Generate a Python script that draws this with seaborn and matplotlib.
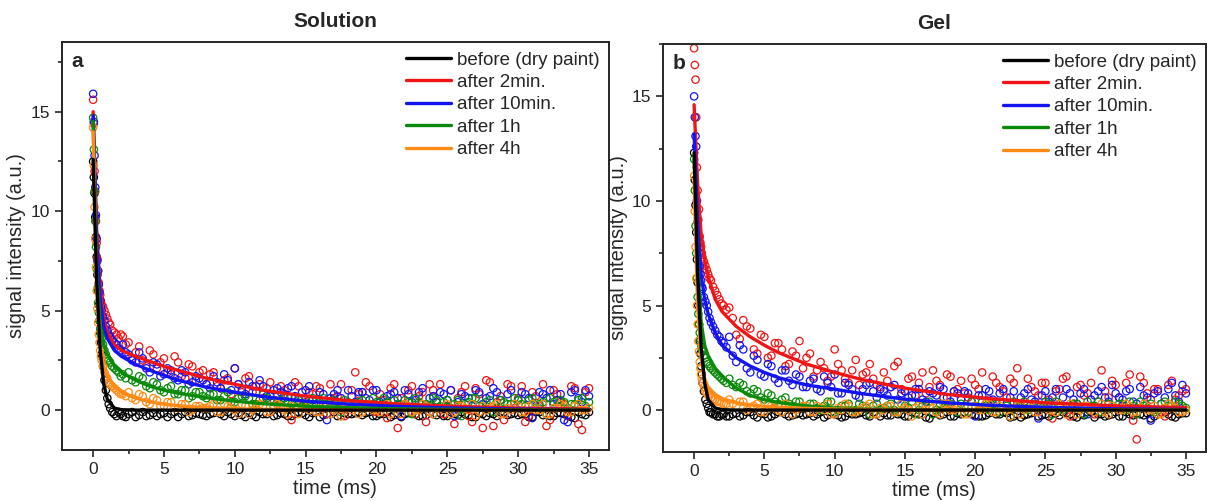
import numpy as np
import matplotlib
matplotlib.use("Agg")
import matplotlib.pyplot as plt
from matplotlib.ticker import MultipleLocator
import seaborn as sns

sns.set_style("ticks")
plt.rcParams['font.family'] = ['Liberation Sans', 'DejaVu Sans']

# series labels and colours (legend order)
LABELS = ['before (dry paint)', 'after 2min.', 'after 10min.', 'after 1h', 'after 4h']
COLORS = ['#000000', '#F01414', '#1414F0', '#0A8A0A', '#FF8A14']

# measured points, first time grid (ms)
T_PTS = [0, 0.1, 0.2, 0.3, 0.4, 0.5, 0.6, 0.8, 1.0, 1.2, 1.5, 1.8, 2.1,
         2.5, 3.0, 3.5, 4.0, 4.5, 5.0, 5.5, 6.0, 6.5, 7.0, 7.5,
         8.0, 8.5, 9.0, 9.5, 10.0, 10.5, 11.0, 11.5, 12.0, 12.5, 13.0,
         13.5, 14.0, 14.5, 15.0, 15.5, 16.0, 16.5, 17.0, 17.5, 18.0, 18.5,
         19.0, 19.5, 20.0, 20.5, 21.0, 21.5, 22.0, 22.5, 23.0, 23.5, 24.0,
         24.5, 25.0, 25.5, 26.0, 26.5, 27.0, 27.5, 28.0, 28.5, 29.0, 29.5,
         30.0, 30.5, 31.0, 31.5, 32.0, 32.5, 33.0, 33.5, 34.0, 34.5, 35.0]
# second (interleaved) time grid
T_PTS2 = [0.05, 0.15, 0.25, 0.35, 0.45, 0.55, 0.7, 0.9, 1.1, 1.35, 1.65, 1.95, 2.3,
          2.75, 3.25, 3.75, 4.25, 4.75, 5.25, 5.75, 6.25, 6.75, 7.25, 7.75,
          8.25, 8.75, 9.25, 9.75, 10.25, 10.75, 11.25, 11.75, 12.25, 12.75, 13.25,
          13.75, 14.25, 14.75, 15.25, 15.75, 16.25, 16.75, 17.25, 17.75, 18.25, 18.75,
          19.25, 19.75, 20.25, 20.75, 21.25, 21.75, 22.25, 22.75, 23.25, 23.75, 24.25,
          24.75, 25.25, 25.75, 26.25, 26.75, 27.25, 27.75, 28.25, 28.75, 29.25, 29.75,
          30.25, 30.75, 31.25, 31.75, 32.25, 32.75, 33.25, 33.75, 34.25, 34.75]

# --- Solution (panel a) points ---
BLACK_A = [12.5, 10.9, 8.7, 6.8, 5.3, 3.9, 2.8, 1.5, 0.6, 0.1, -0.2, -0.1, -0.3,
           -0.2, -0.35, -0.1, -0.25, -0.3, -0.15, -0.2, -0.35, -0.1, -0.25, -0.2,
           -0.3, -0.15, -0.2, -0.1, -0.3, -0.25, -0.15, -0.35, -0.2, -0.1, -0.25,
           -0.2, -0.3, -0.1, -0.25, -0.15, -0.35, -0.2, -0.1, -0.3, -0.2, -0.15,
           -0.25, -0.1, -0.3, -0.2, -0.35, -0.15, -0.2, -0.1, -0.3, -0.25, -0.2,
           -0.15, -0.3, -0.2, -0.1, -0.25, -0.35, -0.2, -0.15, -0.3, -0.1, -0.2,
           -0.25, -0.2, -0.35, -0.1, -0.2, -0.3, -0.15, -0.25, -0.4, -0.2, -0.1]
BLACK_A2 = [11.7, 9.7, 7.7, 6.0, 4.5, 3.4, 2.2, 1.0, 0.3, -0.1, -0.3, -0.2, -0.35,
            -0.1, -0.25, -0.3, -0.15, -0.2, -0.35, -0.1, -0.2, -0.3, -0.15, -0.25,
            -0.2, -0.1, -0.3, -0.2, -0.15, -0.35, -0.25, -0.1, -0.2, -0.3, -0.15,
            -0.3, -0.2, -0.15, -0.35, -0.1, -0.25, -0.2, -0.3, -0.15, -0.2, -0.1,
            -0.15, -0.3, -0.2, -0.1, -0.25, -0.35, -0.15, -0.2, -0.3, -0.1, -0.25,
            -0.3, -0.1, -0.25, -0.2, -0.35, -0.15, -0.3, -0.2, -0.1, -0.25, -0.15,
            -0.2, -0.35, -0.1, -0.25, -0.3, -0.15, -0.2, -0.35, -0.1, -0.25]
RED_A = [15.6, 12.0, 9.5, 7.6, 6.4, 5.8, 5.3, 5.0, 4.6, 4.3, 3.9, 3.6, 3.7,
         3.4, 2.9, 2.5, 3.0, 2.1, 2.6, 1.8, 2.4, 1.6, 2.2, 1.9,
         1.3, 1.9, 1.1, 1.6, 2.1, 0.9, 1.7, 1.2, 0.6, 1.4, 0.3,
         1.0, -0.5, 1.2, 0.4, 0.8, 1.1, -0.2, 0.6, 1.3, 0.2, 1.9,
         0.9, 1.2, -0.1, 0.5, 1.1, -0.9, 0.3, 1.2, 0.7, -0.6, 1.0,
         1.3, 0.2, -0.7, 0.9, -0.3, 1.1, -0.9, 1.4, 0.4, -0.5, 1.2,
         0.6, -0.6, 0.9, 0.2, -0.8, 1.0, 0.4, -0.3, 1.1, -1.0, 1.1]
RED_A2 = [14.4, 11.0, 8.4, 7.0, 6.0, 5.5, 5.2, 4.8, 4.4, 4.0, 3.8, 3.8, 3.3,
          2.6, 3.2, 2.2, 2.8, 2.4, 1.9, 2.7, 1.7, 2.3, 1.5, 2.0,
          1.8, 1.2, 1.5, 0.8, 1.3, 1.6, 0.9, 1.3, 1.1, 0.5, 1.2,
          0.7, 1.4, 0.2, 0.9, 1.2, 0.3, 1.3, 0.7, -0.3, 1.0, 0.8,
          1.4, 0.3, 0.8, -0.4, 1.3, 0.6, 1.0, -0.2, 0.9, 1.3, 0.4,
          -0.2, 1.0, 0.6, 1.2, -0.6, 0.8, 1.5, -0.8, 0.7, 1.3, 0.1,
          1.2, -0.3, 0.7, 1.3, -0.5, 0.8, 0.3, 1.2, -0.7, 0.9]
BLUE_A = [15.9, 12.8, 9.8, 7.5, 6.3, 5.5, 5.0, 4.5, 4.0, 3.7, 3.4, 3.1, 3.3,
          2.8, 2.4, 2.6, 1.9, 2.3, 1.8, 2.0, 1.5, 1.9, 1.4, 1.6,
          1.3, 1.7, 1.1, 1.5, 2.1, 1.0, 1.4, 0.9, 1.2, 0.7, 1.1,
          0.8, 1.2, 0.6, 1.0, 0.5, 0.9, -0.5, 0.8, 0.6, 1.0, 0.4,
          0.9, 0.5, 1.0, 0.3, 0.8, 0.6, 1.0, 0.4, 0.9, 0.2, 0.7,
          0.9, 0.5, -0.3, 0.8, 0.6, 1.0, 0.3, 0.7, 0.9, -0.2, 1.0,
          0.5, 0.8, -0.4, 0.9, 0.6, 0.3, 0.8, -0.6, 1.0, 0.4, 0.7]
BLUE_A2 = [14.5, 11.2, 8.6, 7.0, 5.9, 5.2, 4.7, 4.2, 3.8, 3.5, 3.3, 3.0, 2.9,
           2.5, 2.9, 2.1, 2.4, 1.7, 2.1, 1.6, 2.0, 1.3, 1.7, 1.5,
           1.1, 1.4, 1.8, 1.0, 1.3, 0.8, 1.2, 1.5, 0.7, 1.0, 0.9,
           1.1, 0.7, 0.9, 1.2, 0.5, 0.8, 0.6, 1.0, 0.3, 0.7, 0.9,
           0.6, 1.0, 0.4, 0.7, 0.9, -0.3, 0.8, 0.5, 1.1, 0.6, 0.4,
           0.8, 1.0, 0.4, 0.7, 0.2, 0.9, 0.6, 1.1, 0.5, 0.8, 0.3,
           0.9, 0.6, 0.2, 0.8, 1.0, 0.5, -0.5, 0.9, 0.6, 1.0]
GREEN_A = [14.7, 11.0, 8.2, 6.1, 4.9, 4.1, 3.6, 3.0, 2.6, 2.4, 2.1, 1.9, 1.8,
           1.9, 1.4, 1.6, 1.1, 1.3, 0.9, 1.2, 0.8, 1.0, 0.7, 0.9,
           0.6, 0.8, 0.5, 0.9, 0.4, 0.7, 0.6, 0.3, 0.8, 0.5, 0.4,
           0.6, 0.3, 0.5, 0.2, 0.6, 0.4, 0.3, 0.5, -0.1, 0.4, 0.3,
           0.5, 0.2, 0.4, 0.6, 0.1, 0.3, 0.5, -0.2, 0.4, 0.3, 0.6,
           0.2, 0.5, 0.3, -0.3, 0.4, 0.6, 0.2, 0.5, 0.1, 0.4, 0.3,
           0.5, 0.2, 0.6, 0.3, -0.2, 0.4, 0.5, 0.1, 0.3, 0.6, 0.4]
GREEN_A2 = [13.1, 9.5, 7.1, 5.4, 4.5, 3.8, 3.3, 2.8, 2.5, 2.2, 2.0, 1.7, 1.6,
            1.5, 1.7, 1.2, 1.4, 1.0, 1.1, 0.8, 1.0, 0.6, 0.9, 0.7,
            0.8, 0.5, 0.7, 0.4, 0.6, 0.7, 0.3, 0.5, 0.6, 0.2, 0.5,
            0.4, 0.6, 0.2, 0.5, 0.3, 0.6, 0.1, 0.4, 0.5, 0.2, 0.4,
            0.3, 0.6, 0.2, 0.4, 0.5, 0.1, 0.4, 0.6, 0.3, 0.2, 0.5,
            0.4, 0.1, 0.5, 0.3, 0.6, 0.2, 0.4, -0.1, 0.5, 0.3, 0.6,
            0.3, 0.5, 0.1, 0.4, 0.6, 0.2, 0.4, 0.3, 0.5, 0.2]
ORANGE_A = [14.2, 10.2, 7.2, 5.1, 3.8, 3.0, 2.5, 1.9, 1.6, 1.3, 1.1, 0.9, 0.8,
            0.9, 0.5, 0.7, 0.3, 0.5, 0.2, 0.4, 0.1, 0.3, 0.0, 0.2,
            0.1, 0.3, -0.1, 0.2, 0.0, 0.3, -0.2, 0.1, 0.2, -0.1, 0.3,
            0.0, 0.2, -0.2, 0.1, 0.3, -0.1, 0.2, 0.0, -0.3, 0.2, 0.1,
            -0.1, 0.3, 0.0, 0.2, -0.2, 0.1, 0.3, -0.1, 0.0, 0.2, -0.2,
            0.1, 0.3, -0.1, 0.2, 0.0, -0.3, 0.2, 0.1, 0.3, -0.2, 0.0,
            0.2, -0.1, 0.3, 0.0, -0.2, 0.1, 0.3, -0.1, 0.2, 0.0, 0.1]
ORANGE_A2 = [12.3, 8.6, 6.0, 4.4, 3.4, 2.7, 2.2, 1.7, 1.4, 1.2, 1.0, 0.8, 0.7,
             0.6, 0.8, 0.4, 0.6, 0.2, 0.4, 0.1, 0.3, -0.1, 0.2, 0.1,
             0.2, -0.1, 0.3, 0.1, -0.2, 0.2, 0.0, 0.3, -0.1, 0.1, 0.2,
             -0.2, 0.1, 0.3, 0.0, -0.1, 0.2, -0.2, 0.3, 0.1, 0.0, -0.2,
             0.2, 0.0, -0.1, 0.3, 0.1, -0.2, 0.2, 0.0, 0.3, -0.1, 0.1,
             0.0, -0.2, 0.2, 0.1, 0.3, -0.1, 0.0, 0.2, -0.2, 0.1, 0.3,
             -0.1, 0.2, 0.0, 0.3, -0.2, 0.1, 0.2, -0.1, 0.3, 0.0]

# --- Gel (panel b) points ---
BLACK_B = [12.3, 9.8, 7.2, 5.0, 3.3, 2.1, 1.3, 0.5, 0.1, -0.1, -0.2, -0.3, -0.2,
           -0.3, -0.15, -0.25, -0.1, -0.35, -0.2, -0.3, -0.1, -0.2, -0.25, -0.15,
           -0.2, -0.3, -0.1, -0.25, -0.2, -0.35, -0.15, -0.2, -0.1, -0.3, -0.2,
           -0.15, -0.25, -0.2, -0.3, -0.1, -0.2, -0.35, -0.15, -0.25, -0.1, -0.3,
           -0.2, -0.1, -0.25, -0.3, -0.15, -0.2, -0.1, -0.35, -0.2, -0.25, -0.15,
           -0.3, -0.2, -0.1, -0.25, -0.15, -0.3, -0.2, -0.1, -0.35, -0.2, -0.25,
           -0.1, -0.3, -0.2, -0.15, -0.25, -0.4, -0.2, -0.1, -0.3, -0.2, -0.15]
BLACK_B2 = [11.0, 8.5, 6.1, 4.1, 2.7, 1.7, 0.9, 0.3, -0.1, -0.2, -0.3, -0.2, -0.3,
            -0.2, -0.3, -0.1, -0.25, -0.15, -0.35, -0.2, -0.1, -0.3, -0.2, -0.25,
            -0.15, -0.2, -0.35, -0.1, -0.25, -0.3, -0.2, -0.15, -0.25, -0.1, -0.3,
            -0.25, -0.1, -0.2, -0.3, -0.15, -0.2, -0.4, -0.1, -0.2, -0.3, -0.15,
            -0.1, -0.2, -0.3, -0.25, -0.1, -0.2, -0.15, -0.3, -0.35, -0.2, -0.1,
            -0.25, -0.3, -0.15, -0.1, -0.2, -0.35, -0.25, -0.1, -0.2, -0.3, -0.2,
            -0.3, -0.1, -0.25, -0.2, -0.15, -0.3, -0.1, -0.2, -0.35, -0.15]
RED_B = [17.3, 15.8, 11.6, 9.1, 8.3, 7.8, 7.3, 6.9, 6.5, 6.2, 5.7, 5.3, 5.0,
         4.9, 3.6, 4.3, 3.9, 2.7, 3.5, 2.6, 3.2, 2.1, 2.8, 3.3,
         2.5, 1.6, 2.3, 1.4, 2.9, 1.9, 1.3, 2.4, 1.7, 2.2, 1.2,
         1.8, 1.1, 2.3, 0.9, 1.6, 1.3, 0.8, 1.9, 1.2, 1.7, 0.9,
         1.4, 0.6, 1.2, 1.8, 0.5, 1.3, 0.9, 1.5, 2.0, 0.4, 1.1,
         0.7, 1.3, -0.4, 1.0, 1.6, 0.3, 1.2, 0.8, -0.2, 1.9, 0.6,
         1.2, 0.2, 1.7, -1.4, 1.3, 0.5, 1.0, -0.3, 1.4, 0.7, 1.0]
RED_B2 = [16.5, 14.0, 10.5, 9.6, 8.0, 7.5, 7.1, 6.7, 6.3, 5.9, 5.5, 5.1, 4.8,
          4.4, 3.4, 4.0, 2.9, 3.6, 2.5, 3.2, 2.9, 2.2, 2.6, 2.0,
          2.7, 1.9, 2.0, 1.6, 2.2, 1.5, 1.9, 1.2, 1.8, 1.5, 1.1,
          1.4, 2.1, 1.0, 1.5, 0.7, 1.8, 1.1, 1.4, 0.6, 1.6, 1.0,
          0.8, 1.5, 1.0, 0.3, 1.6, 1.1, 0.6, 1.3, 0.2, 1.5, 0.9,
          1.3, 0.5, 0.9, 1.5, -0.3, 1.1, 0.7, 1.3, 0.4, 0.9, 1.4,
          0.6, 1.3, -0.5, 1.6, 0.8, 1.0, -0.1, 1.2, 0.5, 0.9]
BLUE_B = [15.0, 13.1, 10.0, 8.0, 6.9, 6.2, 5.8, 5.2, 4.7, 4.2, 3.8, 3.5, 3.2,
          3.5, 2.3, 2.9, 1.8, 2.4, 1.6, 2.1, 1.3, 1.9, 1.2, 1.6,
          1.1, 1.5, 0.9, 1.3, 1.7, 0.8, 1.2, 0.7, 1.0, 1.3, 0.6,
          0.9, 1.1, 0.5, 0.9, 0.7, 1.0, 0.4, 0.8, 1.1, 0.6, 0.9,
          0.5, 0.8, -0.3, 0.7, 0.9, 0.4, 1.0, 0.6, 0.3, 0.8, 0.5,
          -0.4, 0.9, 0.6, 0.3, 1.0, 0.5, 0.8, -0.2, 0.7, 1.1, 0.4,
          0.8, 0.5, 1.0, 0.3, 0.7, -0.5, 0.9, 0.6, 1.3, 0.4, 0.8]
BLUE_B2 = [14.0, 12.6, 9.0, 7.5, 6.5, 5.9, 5.4, 5.0, 4.4, 4.0, 3.6, 3.3, 3.0,
           2.6, 3.1, 2.0, 2.6, 1.7, 2.2, 1.5, 1.9, 1.4, 1.7, 1.1,
           1.4, 1.0, 1.6, 1.1, 0.8, 1.3, 1.0, 0.6, 1.2, 0.9, 1.0,
           0.7, 1.2, 0.8, 0.6, 1.0, 0.5, 0.9, 0.7, 1.0, 0.4, 0.8,
           0.9, 0.4, 0.7, 1.0, 0.5, 0.8, 0.3, 0.9, 0.6, 1.0, 0.4,
           0.7, 0.4, 1.0, 0.6, 0.8, 0.3, 1.0, 0.5, 0.9, 0.6, 1.2,
           0.6, 0.9, 0.4, 1.1, 0.6, 0.8, 0.3, 1.0, 0.7, 1.2]
GREEN_B = [12.0, 8.8, 6.3, 4.6, 3.7, 3.1, 2.8, 2.5, 2.2, 2.0, 1.8, 1.6, 1.4,
           1.5, 1.1, 1.2, 0.8, 0.9, 0.5, 0.7, 0.3, 0.6, 0.2, 0.4,
           0.1, 0.3, 0.0, 0.4, -0.1, 0.2, 0.3, 0.0, 0.2, -0.2, 0.3,
           0.1, 0.3, -0.1, 0.2, 0.4, 0.0, 0.2, -0.2, 0.3, 0.1, 0.2,
           0.3, -0.1, 0.2, 0.4, 0.0, 0.3, 0.1, -0.3, 0.2, 0.4, 0.1,
           0.2, 0.4, -0.2, 0.3, 0.1, 0.3, 0.0, 0.4, 0.2, -0.1, 0.3,
           0.1, 0.3, 0.4, -0.2, 0.2, 0.3, 0.0, 0.4, 0.2, 0.3, 0.1]
GREEN_B2 = [10.5, 7.5, 5.4, 4.1, 3.4, 2.9, 2.6, 2.3, 2.1, 1.9, 1.7, 1.5, 1.3,
            1.2, 1.3, 0.9, 1.0, 0.6, 0.8, 0.4, 0.5, 0.3, 0.4, 0.1,
            0.3, 0.1, 0.2, 0.4, 0.0, 0.2, -0.1, 0.3, 0.1, 0.2, 0.0,
            0.2, 0.0, 0.3, 0.1, -0.2, 0.2, 0.4, 0.0, 0.1, 0.3, -0.1,
            0.2, 0.4, 0.0, 0.2, 0.3, -0.1, 0.2, 0.4, 0.1, 0.0, 0.3,
            0.1, 0.3, 0.4, 0.0, 0.2, 0.3, -0.2, 0.2, 0.4, 0.1, 0.2,
            0.3, 0.0, 0.2, 0.4, 0.1, -0.1, 0.3, 0.2, 0.4, 0.2]
ORANGE_B = [11.2, 7.8, 5.0, 3.3, 2.3, 1.7, 1.3, 0.9, 0.7, 0.6, 0.5, 0.4, 0.3,
            0.5, 0.2, 0.4, 0.1, 0.3, -0.1, 0.2, 0.0, 0.3, -0.2, 0.1,
            0.2, -0.1, 0.1, 0.3, -0.2, 0.0, 0.2, -0.1, 0.1, 0.3, -0.2,
            0.0, 0.2, -0.1, 0.1, -0.3, 0.2, 0.0, 0.1, -0.2, 0.3, 0.0,
            0.1, -0.2, 0.2, 0.0, 0.3, -0.1, 0.1, -0.3, 0.2, 0.0, 0.1,
            -0.1, 0.2, 0.0, 0.3, -0.2, 0.1, 0.0, 0.2, -0.1, 0.3, -0.2,
            0.1, 0.0, 0.2, -0.1, 0.3, 0.0, -0.2, 0.1, 0.2, -0.1, 0.0]
ORANGE_B2 = [9.5, 6.3, 4.1, 2.8, 2.0, 1.5, 1.1, 0.8, 0.7, 0.5, 0.4, 0.35, 0.3,
             0.3, 0.4, 0.0, 0.2, -0.1, 0.3, 0.1, -0.1, 0.2, 0.0, 0.2,
             -0.1, 0.2, 0.0, -0.2, 0.1, 0.3, -0.1, 0.0, 0.2, -0.2, 0.1,
             0.2, -0.1, 0.3, 0.0, 0.1, -0.2, 0.2, -0.1, 0.3, 0.0, 0.1,
             -0.2, 0.1, 0.0, 0.3, -0.1, 0.2, 0.0, 0.1, -0.2, 0.3, -0.1,
             0.2, 0.0, -0.1, 0.1, 0.3, -0.2, 0.2, 0.0, 0.1, -0.1, 0.2,
             0.0, 0.3, -0.1, 0.1, 0.0, 0.2, -0.2, 0.3, 0.1, -0.1]

# fitted curves
T_FIT = [0, 0.25, 0.5, 0.75, 1, 1.5, 2, 3, 4, 5, 6, 8, 10, 12, 15, 18, 21, 25, 30, 35]
BLACK_A_FIT = [12.6, 6.5, 3.0, 1.3, 0.55, 0.1, 0.02, 0, 0, 0, 0, 0, 0, 0, 0, 0, 0, 0, 0, 0]
RED_A_FIT = [15.0, 9.0, 6.0, 4.6, 3.9, 3.3, 3.0, 2.7, 2.45, 2.2, 2.0, 1.6, 1.3, 1.0, 0.7, 0.48, 0.33, 0.2, 0.1, 0.05]
BLUE_A_FIT = [14.8, 8.5, 5.5, 4.2, 3.6, 3.0, 2.7, 2.3, 2.0, 1.75, 1.5, 1.15, 0.9, 0.68, 0.45, 0.3, 0.2, 0.11, 0.05, 0.02]
GREEN_A_FIT = [14.5, 7.0, 4.3, 3.3, 2.8, 2.2, 1.9, 1.5, 1.2, 1.0, 0.85, 0.62, 0.45, 0.32, 0.2, 0.12, 0.07, 0.04, 0.02, 0]
ORANGE_A_FIT = [14.0, 6.0, 3.2, 2.2, 1.7, 1.2, 0.9, 0.6, 0.42, 0.3, 0.22, 0.12, 0.07, 0.04, 0.02, 0, 0, 0, 0, 0]

BLACK_B_FIT = [12.3, 6.5, 3.0, 1.3, 0.5, 0.1, 0.02, 0, 0, 0, 0, 0, 0, 0, 0, 0, 0, 0, 0, 0]
RED_B_FIT = [14.6, 10.8, 8.4, 7.2, 6.4, 5.3, 4.7, 4.0, 3.5, 3.1, 2.75, 2.2, 1.8, 1.45, 1.05, 0.75, 0.55, 0.35, 0.2, 0.12]
BLUE_B_FIT = [13.2, 9.0, 6.5, 5.3, 4.6, 3.7, 3.1, 2.5, 2.1, 1.8, 1.55, 1.2, 1.0, 0.78, 0.52, 0.35, 0.23, 0.13, 0.06, 0.03]
GREEN_B_FIT = [12.0, 7.0, 4.2, 3.1, 2.6, 2.0, 1.6, 1.05, 0.7, 0.5, 0.36, 0.2, 0.1, 0.05, 0.02, 0.01, 0, 0, 0, 0]
ORANGE_B_FIT = [11.0, 5.0, 2.5, 1.5, 1.1, 0.75, 0.55, 0.35, 0.25, 0.18, 0.13, 0.08, 0.05, 0.03, 0.01, 0, 0, 0, 0, 0]

PANELS = [
    dict(title='Solution', tag='a', rect=[0.0513, 0.102, 0.4527, 0.814], ylim=(-2, 18.5),
         pts=[BLACK_A + BLACK_A2, RED_A + RED_A2, BLUE_A + BLUE_A2,
              GREEN_A + GREEN_A2, ORANGE_A + ORANGE_A2],
         fits=[BLACK_A_FIT, RED_A_FIT, BLUE_A_FIT, GREEN_A_FIT, ORANGE_A_FIT]),
    dict(title='Gel', tag='b', rect=[0.549, 0.098, 0.449, 0.814], ylim=(-2, 17.5),
         pts=[BLACK_B + BLACK_B2, RED_B + RED_B2, BLUE_B + BLUE_B2,
              GREEN_B + GREEN_B2, ORANGE_B + ORANGE_B2],
         fits=[BLACK_B_FIT, RED_B_FIT, BLUE_B_FIT, GREEN_B_FIT, ORANGE_B_FIT]),
]

t_all = T_PTS + T_PTS2
fig = plt.figure(figsize=(12.08, 5.01), dpi=100)

for p in PANELS:
    ax = fig.add_axes(p['rect'])
    # points: black first, orange on top
    for i in [0, 1, 2, 3, 4]:
        sns.scatterplot(x=t_all, y=p['pts'][i], ax=ax, marker='o', s=28,
                        color=COLORS[i], facecolors='none', edgecolor=COLORS[i],
                        linewidth=0.9, zorder=2)
    # fits: black drawn last
    for i in [1, 2, 3, 4, 0]:
        sns.lineplot(x=T_FIT, y=p['fits'][i], ax=ax, color=COLORS[i], lw=2.4,
                     label=LABELS[i], zorder=3)
    h, l = ax.get_legend_handles_labels()
    lookup = dict(zip(l, h))
    ax.legend([lookup[k] for k in LABELS], LABELS, loc='upper right', frameon=False,
              fontsize=13.5, handlelength=2.4, handletextpad=0.3, labelspacing=0.28,
              borderaxespad=0.2, borderpad=0.3)

    ax.set_xlim(-2.2, 36.4)
    ax.set_ylim(*p['ylim'])
    ax.xaxis.set_major_locator(MultipleLocator(5))
    ax.xaxis.set_minor_locator(MultipleLocator(2.5))
    ax.yaxis.set_major_locator(MultipleLocator(5))
    ax.yaxis.set_minor_locator(MultipleLocator(2.5))
    ax.tick_params(which='major', length=5, width=1.2, labelsize=12.5, direction='out')
    ax.tick_params(which='minor', length=3, width=1.2, direction='out')
    for s in ax.spines.values():
        s.set_linewidth(1.4)
        s.set_visible(True)
    ax.set_xlabel('time (ms)', fontsize=14.5, labelpad=2)
    ax.set_ylabel('signal intensity (a.u.)', fontsize=14.5, labelpad=3)
    ax.set_title(p['title'], fontsize=15, fontweight='bold', pad=11)
    ax.text(0.018, 0.975, p['tag'], transform=ax.transAxes, fontsize=15,
            fontweight='bold', va='top', ha='left')

fig.savefig('out.png', dpi=100)
